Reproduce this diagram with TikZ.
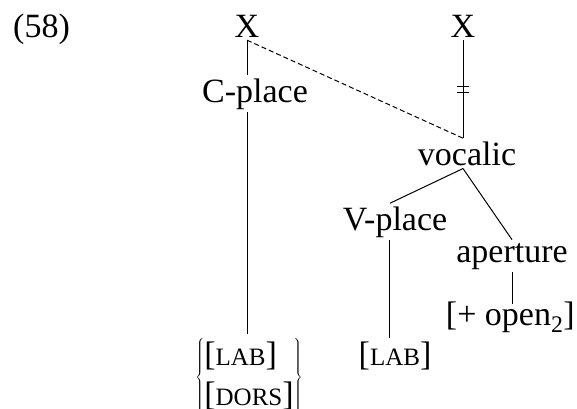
\documentclass[tikz,border=0pt]{standalone}
\usepackage{fontspec}
\setmainfont{Liberation Serif}
\usetikzlibrary{positioning}
\newcommand{\fsc}[1]{{\fontsize{25}{30}\selectfont #1}}

\begin{document}
\begin{tikzpicture}[x=1pt, y=-1pt,
    lbl/.style={anchor=base, inner sep=3pt, font=\fontsize{34}{40}\selectfont},
    branch/.style={line width=1pt}]
    \useasboundingbox (0,0) rectangle (577,408);
    \node[lbl, anchor=base west] (num) at (10,37) {(58)};
    \node[lbl] (xl) at (247,37) {X};
    \node[lbl] (xr) at (463,37) {X};
    \node[lbl] (cpl) at (255,102) {C-place};
    \node[lbl] (voc) at (467,165) {vocalic};
    \node[lbl] (vpl) at (395,230) {V-place};
    \node[lbl] (apt) at (512,262) {aperture};
    \node[lbl, anchor=base east, inner sep=0pt] (opn) at (575,325) {[+ open\textsubscript{2}]};
    \node[lbl] (lab) at (395,365) {[\fsc{LAB}]};
    \node[lbl, anchor=north] (cons) at (249,334)
      {$\left\{\begin{array}{@{}l@{}}\mbox{[\fsc{LAB}]}\\ \mbox{[\fsc{DORS}]}\end{array}\right\}$};
    \coordinate (vtop) at (xr.south |- voc.north);
    \coordinate (vbot) at (xr.south |- voc.south);
    % spreading of the vowel place
    \draw[branch] (xl.south) -- (xl.south |- cpl.north);
    \draw[branch] (xl.south |- cpl.south) -- (xl.south |- cons.north);
    \draw[branch] (xr.south) -- coordinate[pos=0.5] (cut) (vtop);
    \draw[branch] ([shift={(-6,-3)}]cut) -- ([shift={(6,-3)}]cut);
    \draw[branch] ([shift={(-6,3)}]cut) -- ([shift={(6,3)}]cut);
    \draw[branch, dash pattern=on 5pt off 3pt] (xl.south) -- (vtop);
    \draw[branch] (vbot) -- ([xshift=-5pt]vpl.north);
    \draw[branch] (vbot) -- (apt.north);
    \draw[branch] ([xshift=-6pt]vpl.south) -- ([xshift=-6pt]vpl.south |- lab.north);
    \draw[branch] (apt.south) -- ([yshift=-3pt]apt.south |- opn.north);
\end{tikzpicture}
\end{document}
